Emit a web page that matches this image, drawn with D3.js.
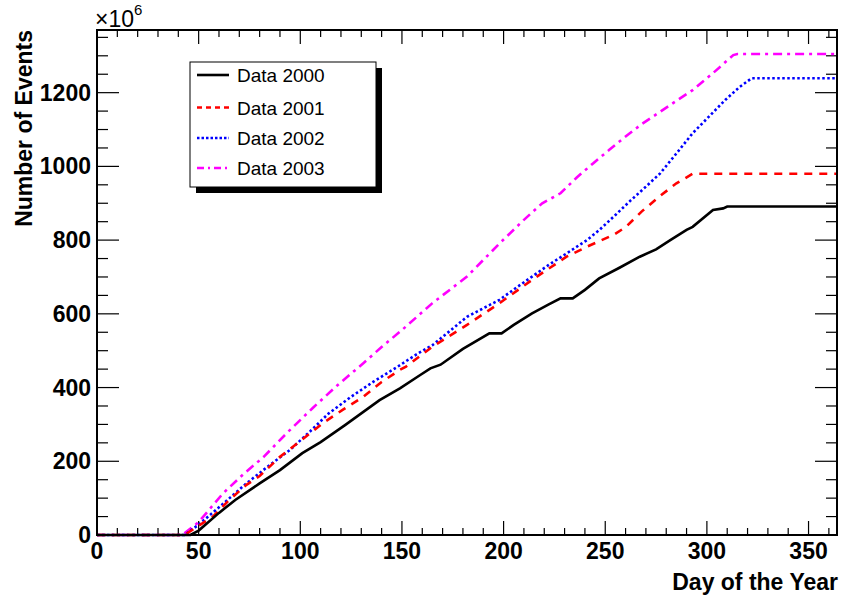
<!DOCTYPE html>
<html>
<head>
<meta charset="utf-8">
<script src="https://cdn.jsdelivr.net/npm/d3@7"></script>
<style>
  body { margin: 0; background: #fff; }
  svg { display: block; font-family: "Liberation Sans", Arial, sans-serif; }
</style>
</head>
<body>
<div id="chart"></div>
<script>
// cumulative events (x10^6) per day of year
const data2000 = [[0,0],[46,0],[50,12],[60,60],[68,95],[80,140],[90,176],[101,222],[110,252],[122,298],[139,366],[149,398],[159,434],[164,452],[169,462],[180,505],[193,547],[199,547],[205,570],[214,601],[222,625],[228,642],[234,642],[240,665],[247,696],[257,725],[267,755],[275,775],[282,800],[290,828],[293,836],[303,882],[308,886],[310,891],[364,891]];
const data2001 = [[0,0],[43,0],[50,25],[57,50],[65,95],[73.5,136],[80,160],[90,212],[100,255],[111,303],[121,340],[131,375],[140,415],[149,448],[152,457],[165,511],[182,570],[198,629],[214,692],[222,722],[231,755],[241,782],[254,814],[260,835],[268,878],[277,920],[285,954],[293,980],[364,980]];
const data2002 = [[0,0],[43,0],[50,28],[60,75],[73.5,140],[85,190],[95,231],[105,282],[114,330],[125,375],[136,416],[148,457],[158,493],[165,515],[175,560],[182,592],[190,615],[198,638],[206,670],[214,701],[222,732],[231,764],[241,800],[247,827],[255,868],[262,905],[270,945],[277,981],[285,1035],[293,1090],[301,1135],[309,1180],[316,1215],[322,1239],[364,1239]];
const data2003 = [[0,0],[42,0],[50,35],[62,113],[72,165],[82,212],[94,280],[106,344],[118,405],[131,466],[140,510],[150,556],[165,629],[182,701],[198,791],[210,855],[219,900],[228,927],[236,970],[244,1008],[252,1045],[260,1081],[268,1115],[277,1148],[285,1178],[293,1207],[303,1253],[313,1302],[315,1305],[364,1305]];

const seriesNames = ['Data 2000', 'Data 2001', 'Data 2002', 'Data 2003'];
const xTicks = [0, 50, 100, 150, 200, 250, 300, 350];
const yTicks = [0, 200, 400, 600, 800, 1000, 1200];

const series = [
  { name: seriesNames[0], values: data2000, color: '#000000', dash: null },
  { name: seriesNames[1], values: data2001, color: '#ff0000', dash: '8,7' },
  { name: seriesNames[2], values: data2002, color: '#0000ff', dash: '2.5,2.5' },
  { name: seriesNames[3], values: data2003, color: '#ff00ff', dash: '9,5,3,5' }
];

const W = 841, H = 601;
const margin = { top: 30, right: 4, bottom: 66, left: 97 };
const w = W - margin.left - margin.right;
const h = H - margin.top - margin.bottom;

const svg = d3.select('#chart').append('svg')
  .attr('width', W)
  .attr('height', H);

const g = svg.append('g').attr('transform', `translate(${margin.left},${margin.top})`);

const x = d3.scaleLinear().domain([0, 364]).range([0, w]);
const y = d3.scaleLinear().domain([0, 1370]).range([h, 0]);

// ticks inside the frame on all four sides, ROOT-like
const xMinor = d3.range(0, 365, 10);
const yMinor = d3.range(0, 1370, 50);

function tickMarks(sel, vals, major, isX, side) {
  sel.selectAll(null)
    .data(vals)
    .enter().append('line')
    .attr('stroke', '#000')
    .attr('stroke-width', 1.2)
    .each(function(v) {
      const isMajor = major.includes(v);
      const len = isX ? (isMajor ? 14 : 7) : (isMajor ? 22 : 11);
      const l = d3.select(this);
      if (isX) {
        const px = x(v);
        const y0 = side === 'bottom' ? h : 0;
        const y1 = side === 'bottom' ? h - len : len;
        l.attr('x1', px).attr('x2', px).attr('y1', y0).attr('y2', y1);
      } else {
        const py = y(v);
        const x0 = side === 'left' ? 0 : w;
        const x1 = side === 'left' ? len : w - len;
        l.attr('x1', x0).attr('x2', x1).attr('y1', py).attr('y2', py);
      }
    });
}

tickMarks(g.append('g'), xMinor, xTicks, true, 'bottom');
tickMarks(g.append('g'), xMinor, xTicks, true, 'top');
tickMarks(g.append('g'), yMinor, yTicks, false, 'left');
tickMarks(g.append('g'), yMinor, yTicks, false, 'right');

// curves
const line = d3.line().x(d => x(d[0])).y(d => y(d[1]));
g.append('g').selectAll('path')
  .data(series.slice().reverse())
  .enter().append('path')
  .attr('d', d => line(d.values))
  .attr('fill', 'none')
  .attr('stroke', d => d.color)
  .attr('stroke-width', 2.6)
  .attr('stroke-dasharray', d => d.dash);

// frame
g.append('rect')
  .attr('width', w).attr('height', h)
  .attr('fill', 'none').attr('stroke', '#000').attr('stroke-width', 2);

// tick labels
g.append('g').selectAll('text')
  .data(xTicks)
  .enter().append('text')
  .attr('x', d => x(d))
  .attr('y', h + 24)
  .attr('text-anchor', 'middle')
  .style('font-size', '23px').style('font-weight', 'bold')
  .text(d => d);

g.append('g').selectAll('text')
  .data(yTicks)
  .enter().append('text')
  .attr('x', -6)
  .attr('y', d => y(d) + 8)
  .attr('text-anchor', 'end')
  .style('font-size', '23px').style('font-weight', 'bold')
  .text(d => d);

// axis titles
svg.append('text')
  .attr('x', 838).attr('y', 590)
  .attr('text-anchor', 'end')
  .style('font-size', '23px').style('font-weight', 'bold')
  .text('Day of the Year');

svg.append('text')
  .attr('transform', 'translate(32,30) rotate(-90)')
  .attr('text-anchor', 'end')
  .style('font-size', '23px').style('font-weight', 'bold')
  .text('Number of Events');

// exponent label
const expo = svg.append('text').attr('x', 95).attr('y', 27);
expo.append('tspan').style('font-size', '23px').text('×10');
expo.append('tspan').attr('dy', -12).style('font-size', '15px').text('6');

// legend with shadow
const lg = svg.append('g').attr('transform', 'translate(190,62)');
const lw = 186, lh = 125;
lg.append('rect').attr('x', 6).attr('y', 6).attr('width', lw).attr('height', lh).attr('fill', '#000');
lg.append('rect').attr('width', lw).attr('height', lh).attr('fill', '#fff').attr('stroke', '#000').attr('stroke-width', 1);

const rowY = [13, 45.5, 76, 106];
const items = lg.selectAll('g.item')
  .data(series)
  .enter().append('g')
  .attr('class', 'item')
  .attr('transform', (d, i) => `translate(0,${rowY[i]})`);

items.append('line')
  .attr('x1', 7).attr('x2', 39)
  .attr('stroke', d => d.color)
  .attr('stroke-width', 2.6)
  .attr('stroke-dasharray', (d, i) => [null, '5,4', '2.5,2', '7,4,2,4'][i]);

items.append('text')
  .attr('x', 47).attr('y', 7)
  .style('font-size', '19px')
  .text(d => d.name);
</script>
</body>
</html>
